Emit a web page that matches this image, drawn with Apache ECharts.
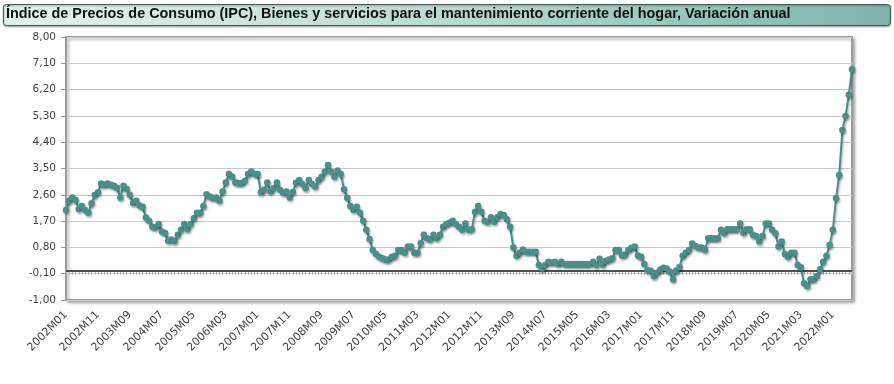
<!DOCTYPE html>
<html>
<head>
<meta charset="utf-8">
<script src="https://cdn.jsdelivr.net/npm/echarts@6/dist/echarts.min.js"></script>
<style>
html,body{margin:0;padding:0;background:#fff;}
#c{width:894px;height:384px;}
</style>
</head>
<body>
<div id="c"></div>
<script>
var titleText = 'Índice de Precios de Consumo (IPC), Bienes y servicios para el mantenimiento corriente del hogar, Variación anual';
var startYear = 2002;
var nMonths = 247;
var yTicks = { min: -1, max: 8, interval: 0.9 };
var zeroLine = 0;

var values = [
2.08,2.40,2.51,2.42,2.11,2.22,2.08,1.99,2.31,2.59,2.69,2.99,
2.94,2.99,2.94,2.91,2.84,2.51,2.91,2.80,2.59,2.32,2.40,2.23,
2.19,1.82,1.71,1.51,1.49,1.60,1.34,1.29,1.03,1.07,1.02,1.23,
1.40,1.60,1.42,1.60,1.80,1.99,1.99,2.22,2.62,2.54,2.50,2.51,
2.40,2.71,3.02,3.31,3.22,3.02,3.00,3.00,3.08,3.31,3.40,3.31,
3.31,2.69,2.77,3.02,2.71,2.82,3.02,2.77,2.66,2.71,2.51,2.70,
3.01,3.11,2.97,2.82,3.11,2.97,2.88,3.11,3.22,3.39,3.62,3.39,
3.22,3.43,3.31,2.79,2.50,2.22,2.08,2.19,1.99,1.71,1.40,1.09,
0.71,0.57,0.48,0.43,0.39,0.39,0.48,0.51,0.71,0.71,0.62,0.83,
0.83,0.62,0.62,0.94,1.23,1.11,1.08,1.23,1.11,1.23,1.51,1.59,
1.64,1.71,1.60,1.51,1.40,1.62,1.40,1.42,2.02,2.22,2.02,1.71,
1.68,1.83,1.68,1.83,1.94,1.91,1.76,1.51,0.80,0.51,0.62,0.73,
0.65,0.65,0.65,0.65,0.20,0.08,0.20,0.31,0.28,0.31,0.23,0.31,
0.23,0.23,0.23,0.23,0.23,0.23,0.23,0.23,0.23,0.31,0.20,0.41,
0.21,0.34,0.39,0.43,0.71,0.71,0.52,0.56,0.71,0.79,0.83,0.52,
0.48,0.23,0.03,0.00,-0.19,-0.07,0.04,0.10,0.08,-0.03,-0.30,0.01,
0.13,0.51,0.62,0.71,0.93,0.85,0.80,0.80,0.71,1.11,1.11,1.11,
1.11,1.40,1.28,1.42,1.42,1.42,1.42,1.62,1.30,1.42,1.42,1.23,
1.19,1.00,1.19,1.62,1.62,1.40,1.28,0.83,1.00,0.57,0.48,0.62,
0.62,0.20,0.12,-0.43,-0.52,-0.29,-0.29,-0.18,0.05,0.31,0.51,0.88,
1.40,2.48,3.28,4.82,5.30,6.02,6.90
];

var categories = [];
for (var i = 0; i < nMonths; i++) {
  var y = startYear + Math.floor(i / 12);
  var m = (i % 12) + 1;
  categories.push(y + 'M' + (m < 10 ? '0' + m : m));
}

var chart = echarts.init(document.getElementById('c'), null, {renderer: 'canvas'});
var option = {
  animation: false,
  graphic: [{
    type: 'rect',
    shape: { x: 3.5, y: 4.5, width: 887, height: 21, r: 3 },
    style: {
      fill: new echarts.graphic.LinearGradient(0, 0, 1, 0, [
        { offset: 0, color: '#e4f2ec' },
        { offset: 0.5, color: '#b9dbd2' },
        { offset: 1, color: '#7db5aa' }
      ]),
      stroke: '#4d5a58',
      lineWidth: 1,
      shadowBlur: 2,
      shadowColor: 'rgba(0,0,0,0.35)',
      shadowOffsetY: 1
    },
    z: 0
  }, {
    type: 'text',
    left: 6,
    top: 7,
    style: {
      text: titleText,
      font: 'bold 14.4px "Liberation Sans Narrow", "Liberation Sans", Arial, sans-serif',
      fill: '#111'
    },
    z: 1
  }],
  grid: {
    left: 66, right: 42, top: 37, bottom: 84,
    show: true,
    backgroundColor: '#fff',
    borderColor: '#9c9c9c',
    borderWidth: 2,
    shadowColor: 'rgba(0,0,0,0.3)',
    shadowBlur: 3,
    shadowOffsetX: 2,
    shadowOffsetY: 2
  },
  xAxis: {
    type: 'category',
    data: categories,
    boundaryGap: false,
    axisLine: { show: true, lineStyle: { color: '#9c9c9c', width: 2 } },
    axisTick: { show: true, interval: 0, length: 4, lineStyle: { color: '#b0b0b0', width: 1 } },
    axisLabel: {
      interval: 9,
      rotate: 45,
      color: '#444',
      fontFamily: 'DejaVu Sans',
      fontSize: 11,
      margin: 13
    },
    splitLine: { show: false }
  },
  yAxis: {
    type: 'value',
    min: yTicks.min,
    max: yTicks.max,
    interval: yTicks.interval,
    axisLine: { show: true, lineStyle: { color: '#9c9c9c', width: 2 } },
    axisTick: { show: true, length: 5, lineStyle: { color: '#9c9c9c' } },
    axisLabel: {
      color: '#444',
      fontFamily: 'DejaVu Sans',
      fontSize: 10.5,
      margin: 10,
      formatter: function (v) { return v.toFixed(2).replace('.', ','); }
    },
    splitLine: { show: true, lineStyle: { color: '#c8c8c8', width: 1 } }
  },
  series: [{
    type: 'line',
    data: values,
    symbol: 'circle',
    symbolSize: 6.5,
    showSymbol: true,
    showAllSymbol: true,
    lineStyle: {
      color: '#4a8f88', width: 2,
      shadowColor: 'rgba(0,0,0,0.3)', shadowBlur: 2, shadowOffsetX: 1, shadowOffsetY: 2
    },
    itemStyle: {
      color: '#4a8f88',
      shadowColor: 'rgba(0,0,0,0.3)', shadowBlur: 2, shadowOffsetX: 1, shadowOffsetY: 2
    },
    markLine: {
      silent: true,
      symbol: 'none',
      label: { show: false },
      lineStyle: { color: '#333', width: 1.5, type: 'solid' },
      data: [{ yAxis: zeroLine }],
      z: 1
    },
    z: 3
  }]
};
chart.setOption(option);
</script>
</body>
</html>
